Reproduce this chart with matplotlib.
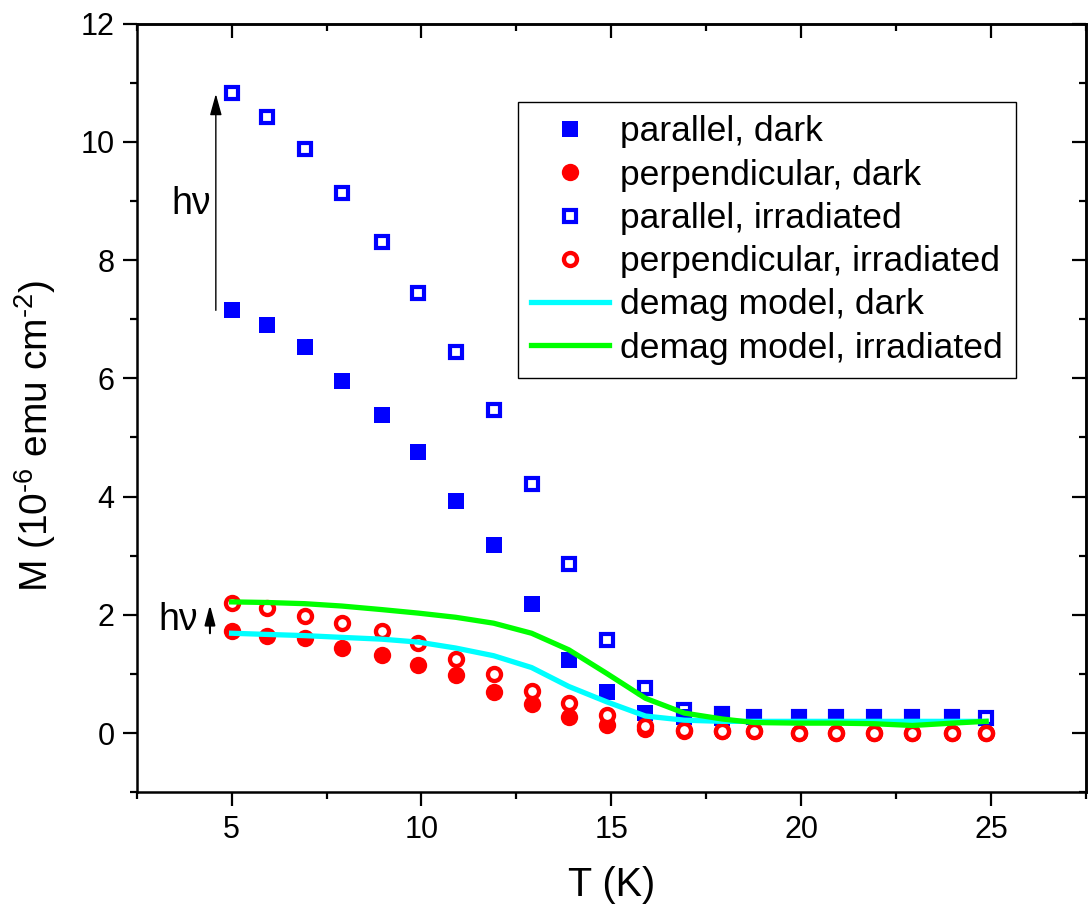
from matplotlib import pyplot as plt
from matplotlib.ticker import MultipleLocator
import numpy as np

plt.rcParams['font.family'] = ['Liberation Sans', 'DejaVu Sans']
plt.rcParams['mathtext.fontset'] = 'custom'
plt.rcParams['mathtext.rm'] = 'Liberation Sans'
plt.rcParams['mathtext.it'] = 'Liberation Sans:italic'

# temperature points (K)
T = [5.0, 5.93, 6.92, 7.9, 8.95, 9.92, 10.9, 11.9, 12.9, 13.88, 14.88,
     15.9, 16.92, 17.92, 18.75, 19.93, 20.92, 21.92, 22.93, 23.98, 24.87]

# magnetization, 10^-6 emu cm^-2
par_dark = [7.15, 6.91, 6.53, 5.96, 5.38, 4.76, 3.92, 3.18, 2.19, 1.24, 0.70,
            0.34, 0.28, 0.26, 0.27, 0.27, 0.27, 0.27, 0.27, 0.27]
perp_dark = [1.73, 1.65, 1.61, 1.44, 1.32, 1.15, 0.99, 0.70, 0.49, 0.28, 0.13,
             0.07, 0.04, 0.03, 0.03, 0.0, 0.0, 0.0, 0.0, 0.0, 0.0]
par_irr = [10.83, 10.42, 9.88, 9.13, 8.31, 7.44, 6.44, 5.46, 4.22, 2.855, 1.58,
           0.76, 0.39, 0.32, 0.27, 0.27, 0.27, 0.27, 0.27, 0.27, 0.25]
perp_irr = [2.195, 2.11, 1.98, 1.86, 1.73, 1.52, 1.25, 1.00, 0.71, 0.51, 0.30,
            0.12, 0.055, 0.045, 0.045, 0.0, 0.0, 0.0, 0.0, 0.0, 0.0]

# demagnetization model curves
model_dark = [1.69, 1.67, 1.65, 1.62, 1.59, 1.54, 1.44, 1.31, 1.11, 0.79, 0.53,
              0.29, 0.22, 0.20, 0.20, 0.20, 0.20, 0.20, 0.20, 0.20, 0.20]
model_irr = [2.22, 2.21, 2.19, 2.15, 2.09, 2.03, 1.96, 1.86, 1.69, 1.41, 1.01,
             0.59, 0.34, 0.24, 0.18, 0.17, 0.17, 0.16, 0.13, 0.17, 0.20]

fig = plt.figure(figsize=(10.89, 9.08), dpi=100)
ax = fig.add_axes([0.1255, 0.1274, 0.8717, 0.8467])

h3, = ax.plot(T, par_irr, ls='none', marker='s', ms=8.3, mew=3.0,
              mec='#0000ff', mfc='none', label='parallel, irradiated')
h1, = ax.plot(T[:len(par_dark)], par_dark, ls='none', marker='s', ms=11.5,
              mew=0, color='#0000ff', label='parallel, dark')
h2, = ax.plot(T, perp_dark, ls='none', marker='o', ms=12.5, mew=0,
              color='#ff0000', label='perpendicular, dark')
h4, = ax.plot(T, perp_irr, ls='none', marker='o', ms=9.4, mew=3.1,
              mec='#ff0000', mfc='white', label='perpendicular, irradiated')
h5, = ax.plot(T, model_dark, color='#00ffff', lw=3.8,
              label='demag model, dark')
h6, = ax.plot(T, model_irr, color='#00ff00', lw=3.8,
              label='demag model, irradiated')

# photo-induced change arrows
ax.annotate('', xy=(4.585, 10.81), xytext=(4.585, 7.15),
            arrowprops=dict(arrowstyle='-|>,head_length=0.65,head_width=0.18',
                            mutation_scale=20, lw=1.0, color='black',
                            shrinkA=0, shrinkB=0))
ax.annotate('', xy=(4.43, 2.17), xytext=(4.43, 1.69),
            arrowprops=dict(arrowstyle='-|>,head_length=0.6,head_width=0.16',
                            mutation_scale=20, lw=1.5, color='black',
                            shrinkA=0, shrinkB=0))
ax.text(3.415, 8.78, 'h\u03bd', fontsize=27, ha='left', va='baseline')
ax.text(3.06, 1.745, 'h\u03bd', fontsize=27, ha='left', va='baseline')

ax.set_xlim(2.5, 27.5)
ax.set_ylim(-1, 12)
ax.set_xticks([5, 10, 15, 20, 25])
ax.set_yticks([0, 2, 4, 6, 8, 10, 12])
ax.xaxis.set_minor_locator(MultipleLocator(2.5))
ax.yaxis.set_minor_locator(MultipleLocator(1))
ax.tick_params(which='both', direction='out', width=1.6, labelsize=22, pad=6)
ax.tick_params(which='major', length=10)
ax.tick_params(which='minor', length=5)
for s in ax.spines.values():
    s.set_linewidth(1.8)

# mirrored ticks, pointing inward
top = ax.secondary_xaxis('top')
top.set_xticks([5, 10, 15, 20, 25])
top.xaxis.set_minor_locator(MultipleLocator(2.5))
top.tick_params(which='both', direction='in', width=1.6, labeltop=False)
top.tick_params(which='major', length=10)
top.tick_params(which='minor', length=5)
top.spines['top'].set_linewidth(1.8)
right = ax.secondary_yaxis('right')
right.set_yticks([0, 2, 4, 6, 8, 10, 12])
right.yaxis.set_minor_locator(MultipleLocator(1))
right.tick_params(which='both', direction='in', width=1.6, labelright=False)
right.tick_params(which='major', length=10)
right.tick_params(which='minor', length=5)
right.spines['right'].set_linewidth(1.8)

ax.set_xlabel('T (K)', fontsize=28.5)
ax.xaxis.set_label_coords(0.5, -0.096)
ax.set_ylabel(r'M (10$^{\text{-6}}$ emu cm$^{\text{-2}}$)', fontsize=28)
ax.yaxis.set_label_coords(-0.083, 0.463)

leg = ax.legend(handles=[h1, h2, h3, h4, h5, h6], loc='upper left',
                bbox_to_anchor=(0.4017, 0.898), borderaxespad=0, fontsize=25.5,
                numpoints=1, handlelength=2.2, handletextpad=0.3,
                labelspacing=0.29, borderpad=0.38, fancybox=False,
                edgecolor='black', framealpha=1)
leg.get_frame().set_linewidth(1.0)

fig.savefig('out.png', dpi=100)
